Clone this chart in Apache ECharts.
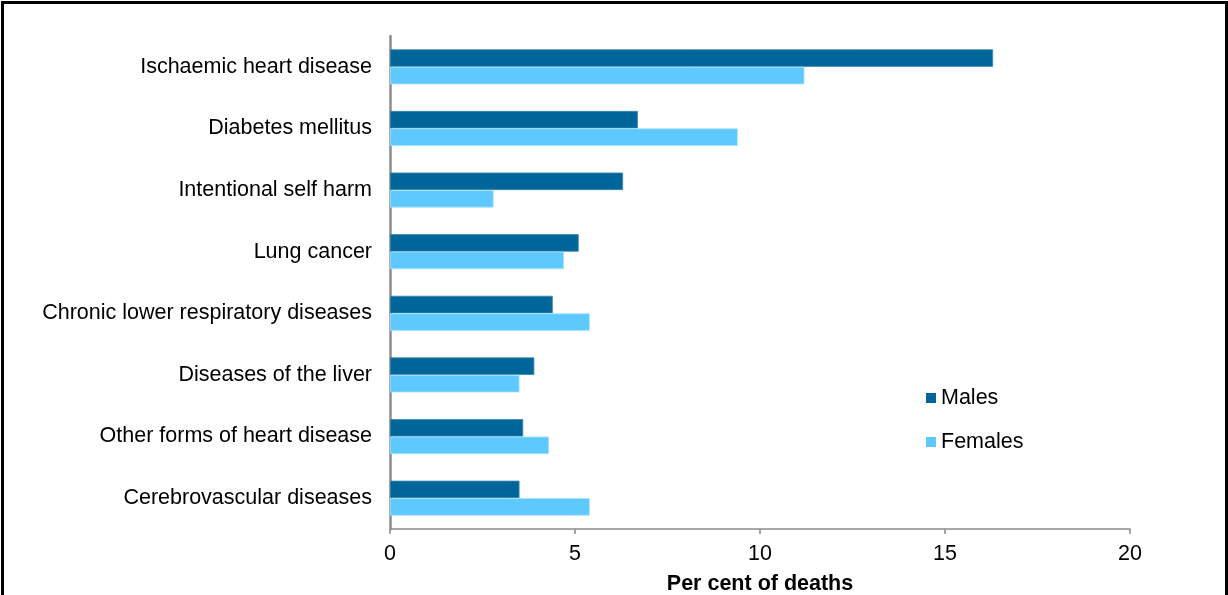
<!DOCTYPE html>
<html>
<head>
<meta charset="utf-8">
<script src="https://cdn.jsdelivr.net/npm/echarts@6/dist/echarts.min.js"></script>
<style>
  html, body { margin: 0; padding: 0; background: #fff; overflow: hidden; }
  #frame { position: absolute; left: 1px; top: 1px; width: 1221px; height: 640px; border: 3px solid #000; }
  #chart { position: absolute; left: 0; top: 0; width: 1228px; height: 595px; }
</style>
</head>
<body>
<div id="frame"></div>
<div id="chart"></div>
<script>
// Leading causes of death, per cent of deaths by sex
const causes = [
  'Ischaemic heart disease',
  'Diabetes mellitus',
  'Intentional self harm',
  'Lung cancer',
  'Chronic lower respiratory diseases',
  'Diseases of the liver',
  'Other forms of heart disease',
  'Cerebrovascular diseases'
];
const males   = [16.3, 6.7, 6.3, 5.1, 4.4, 3.9, 3.6, 3.5];
const females = [11.2, 9.4, 2.8, 4.7, 5.4, 3.5, 4.3, 5.4];
const xTicks  = [0, 5, 10, 15, 20];

const chart = echarts.init(document.getElementById('chart'), null, { renderer: 'canvas' });
const font = 'Liberation Sans, Arial, sans-serif';
const fs = 21.5;

chart.setOption({
  animation: false,
  textStyle: { fontFamily: font },
  grid: { left: 390, right: 98, top: 36, bottom: 66, containLabel: false, outerBoundsMode: 'none' },
  legend: {
    orient: 'vertical',
    left: 921,
    top: 382,
    itemWidth: 10,
    itemHeight: 10,
    itemGap: 22,
    icon: 'rect',
    itemStyle: { borderWidth: 0 },
    textStyle: { fontSize: fs, color: '#000', fontFamily: font },
    data: ['Males', 'Females']
  },
  xAxis: {
    type: 'value',
    min: xTicks[0],
    max: xTicks[xTicks.length - 1],
    interval: 5,
    name: 'Per cent of deaths',
    nameLocation: 'middle',
    nameGap: 44,
    nameTextStyle: { fontSize: fs, fontWeight: 'bold', color: '#000', fontFamily: font },
    axisLine: { show: true, lineStyle: { color: '#8c8c8c', width: 1.5 } },
    axisTick: { show: true, length: 5, lineStyle: { color: '#8c8c8c', width: 1.5 } },
    axisLabel: { fontSize: fs, color: '#000', margin: 14, fontFamily: font },
    splitLine: { show: false }
  },
  yAxis: {
    type: 'category',
    inverse: true,
    data: causes,
    axisLine: { show: true, lineStyle: { color: '#8c8c8c', width: 2.5 } },
    axisTick: { show: false },
    axisLabel: { fontSize: fs, color: '#000', margin: 18, fontFamily: font }
  },
  series: [
    {
      name: 'Males',
      type: 'bar',
      data: males,
      barWidth: 17.5,
      barGap: '0%',
      itemStyle: { color: '#00669a', borderColor: '#3d86ad', borderWidth: 0.8 }
    },
    {
      name: 'Females',
      type: 'bar',
      data: females,
      barWidth: 17.5,
      itemStyle: { color: '#5ec9ff', borderColor: '#a8e2ff', borderWidth: 0.8 }
    }
  ]
});
</script>
</body>
</html>
